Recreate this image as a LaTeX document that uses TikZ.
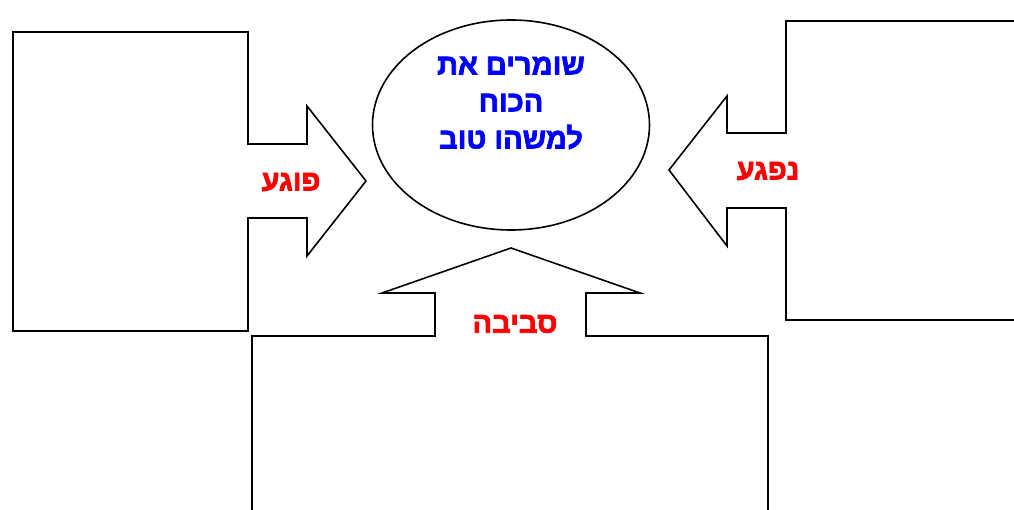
\documentclass[tikz,border=0pt]{standalone}
\usepackage{fontspec}
\newfontfamily\hebfont[Script=Hebrew,BoldFont={Liberation Sans Bold},BoldFeatures={FakeBold=2.5}]{Liberation Sans}
\TeXXeTstate=1
\usetikzlibrary{shapes.geometric}

\begin{document}
\begin{tikzpicture}[x=1pt,y=-1pt,line width=1.6pt,
  font=\hebfont\bfseries\fontsize{29}{37}\selectfont,
  callout/.style={draw,fill=white,line join=miter},
  tag/.style={red}]
\useasboundingbox (0,0) rectangle (1014,510);
% left box, arrow to the right
\draw[callout] (13,32) -- (248,32) -- (248,144) -- (307,144) -- (307,106)
  -- (366,181) -- (307,256) -- (307,218) -- (248,218) -- (248,331)
  -- (13,331) -- cycle;
% right box, arrow to the left
\draw[callout] (1030,21) -- (786,21) -- (786,133) -- (727,133) -- (727,96)
  -- (669,170) -- (727,246) -- (727,208) -- (786,208) -- (786,320)
  -- (1030,320);
% bottom box, arrow up
\draw[callout] (252,530) -- (252,336) -- (435,336) -- (435,293) -- (382,293)
  -- (511,248) -- (640,293) -- (586,293) -- (586,336) -- (768,336)
  -- (768,530);
\node[draw,ellipse,minimum width=277,minimum height=210] (goal) at (511,125) {};
\node[blue,align=center] (goaltxt) at (511,103)
  {\beginR שומרים את\endR\\ \beginR הכוח\endR\\ \beginR למשהו טוב\endR};
\node[tag] (hits) at (291,182) {\beginR פוגע\endR};
\node[tag] (hurt) at (768,171) {\beginR נפגע\endR};
\node[tag] (env) at (515,324) {\beginR סביבה\endR};
\end{tikzpicture}
\end{document}
